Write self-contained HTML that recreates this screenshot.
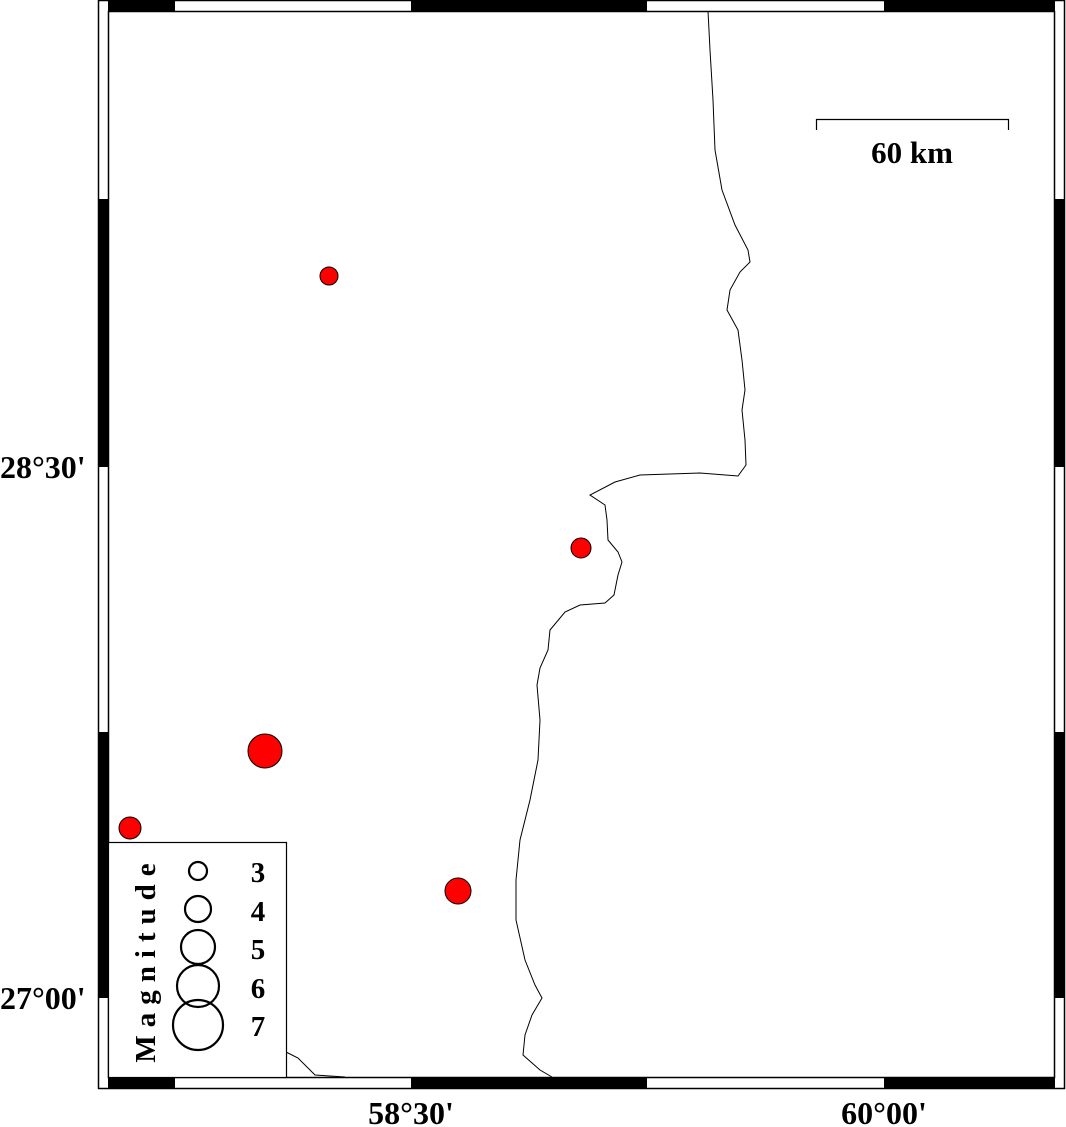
<!DOCTYPE html>
<html><head><meta charset="utf-8"><style>body{margin:0;background:#fff}svg{display:block}</style></head><body>
<svg width="1066" height="1127" viewBox="0 0 1066 1127" xmlns="http://www.w3.org/2000/svg" font-family="Liberation Serif, serif" font-weight="bold">
<rect x="0" y="0" width="1066" height="1127" fill="#fff"/>
<rect x="98.5" y="0.5" width="966" height="1088" fill="none" stroke="#000" stroke-width="1.5"/>
<rect x="108.5" y="11.5" width="946" height="1066" fill="none" stroke="#000" stroke-width="1.5"/>
<g fill="#000">
<rect x="108" y="0" width="67" height="11"/><rect x="411" y="0" width="236" height="11"/><rect x="884" y="0" width="171" height="11"/>
<rect x="108" y="1077" width="67" height="11"/><rect x="411" y="1077" width="236" height="11"/><rect x="884" y="1077" width="171" height="11"/>
<rect x="98" y="199" width="10" height="268"/><rect x="98" y="732" width="10" height="266"/>
<rect x="1055" y="199" width="10" height="268"/><rect x="1055" y="732" width="10" height="266"/>
</g>
<polyline fill="none" stroke="#000" stroke-width="1" points="708,11 710,50 713,100 715,150 722,190 735,225 748,250 750,262 740,272 730,290 727,310 738,330 742,360 745,390 742,410 745,440 746,465 738,476 700,473 640,475 615,482 590,495 605,505 607,520 608,540 618,552 622,562 618,575 614,595 605,603 580,605 565,612 550,630 548,650 540,668 537,685 540,720 538,760 530,800 520,840 516,880 516,920 525,960 535,985 542,998 532,1015 525,1035 523,1055 540,1070 552,1077"/>
<polyline fill="none" stroke="#000" stroke-width="1" points="286,1052 298,1058 315,1075 345,1077"/>
<g fill="#f00" stroke="#000" stroke-width="1">
<circle cx="329" cy="276" r="9"/><circle cx="581" cy="548" r="10"/><circle cx="265" cy="751" r="17"/><circle cx="130" cy="828" r="11"/><circle cx="458" cy="891" r="13"/>
</g>
<polyline fill="none" stroke="#000" stroke-width="1.2" points="816.5,130 816.5,119.5 1008.5,119.5 1008.5,130"/>
<text x="912" y="163" font-size="31" text-anchor="middle">60 km</text>
<rect x="108.5" y="842.5" width="178" height="235" fill="#fff" stroke="#000" stroke-width="1.2"/>
<g fill="none" stroke="#000" stroke-width="2.2">
<circle cx="198" cy="871" r="9"/><circle cx="198" cy="909" r="13"/><circle cx="198" cy="947" r="17"/><circle cx="198" cy="986" r="21"/><circle cx="198" cy="1025" r="25"/>
</g>
<g font-size="29" text-anchor="middle">
<text x="258" y="882">3</text><text x="258" y="921">4</text><text x="258" y="959">5</text><text x="258" y="998">6</text><text x="258" y="1036">7</text>
</g>
<text transform="translate(155,959) rotate(-90)" font-size="29" text-anchor="middle" letter-spacing="8">Magnitude</text>
<g font-size="32">
<text x="0" y="478">28°30'</text><text x="0" y="1009">27°00'</text>
<text x="411" y="1124" text-anchor="middle">58°30'</text><text x="884" y="1124" text-anchor="middle">60°00'</text>
</g>
</svg>
</body></html>
